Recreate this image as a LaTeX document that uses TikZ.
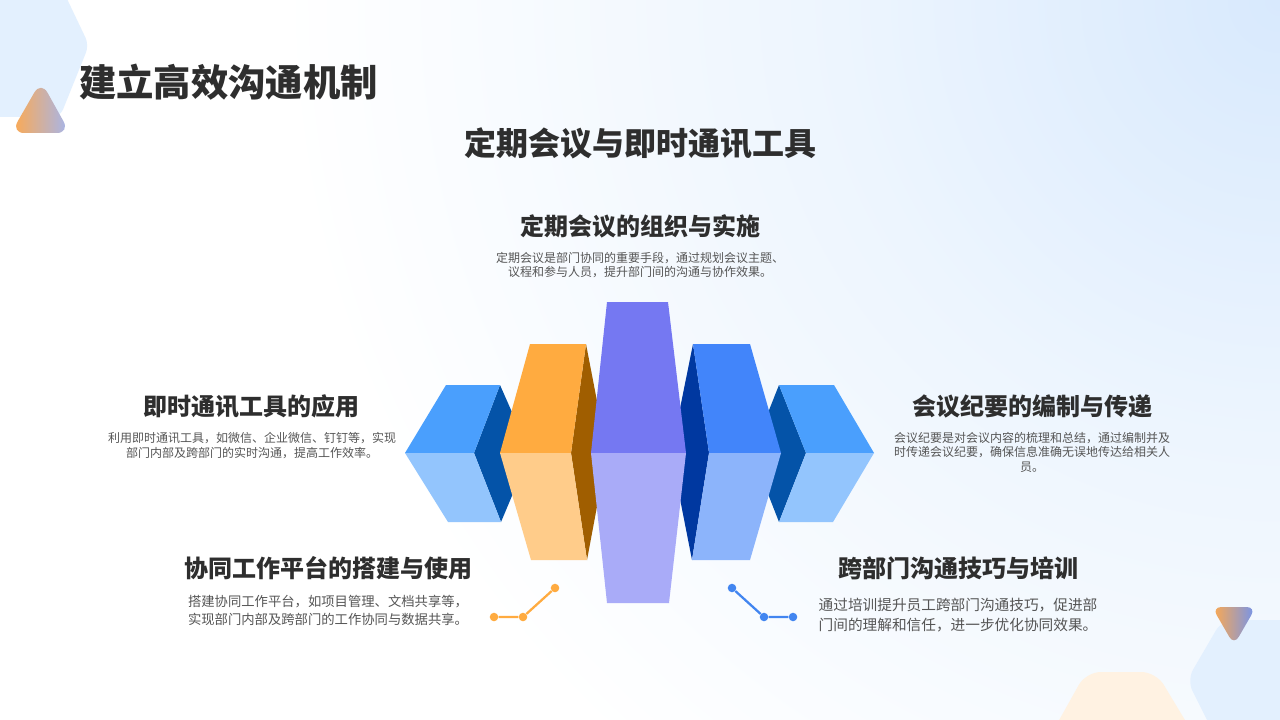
\documentclass[tikz,border=0pt]{standalone}
\usepackage{fontspec}
\setmainfont{Noto Sans CJK SC}
\definecolor{txtdark}{HTML}{2E2E2E}
\definecolor{txtbody}{HTML}{555555}
\definecolor{skyT}{HTML}{4A9FFD}\definecolor{skyB}{HTML}{93C5FD}\definecolor{skyD}{HTML}{0453A8}
\definecolor{orgT}{HTML}{FFAB40}\definecolor{orgB}{HTML}{FFCC8A}\definecolor{orgD}{HTML}{A05E00}
\definecolor{purT}{HTML}{7578F2}\definecolor{purB}{HTML}{A9ABF8}
\definecolor{bluT}{HTML}{4285FA}\definecolor{bluB}{HTML}{8CB4FB}\definecolor{bluD}{HTML}{0038A0}
\definecolor{hexblue}{HTML}{E3F0FE}\definecolor{hexpeach}{HTML}{FFF2E2}
\definecolor{triO}{HTML}{FFA94D}\definecolor{triB}{HTML}{A3B6F0}\definecolor{triC}{HTML}{7093F0}
\definecolor{dotO}{HTML}{FFAB40}\definecolor{dotB}{HTML}{4285F0}
\pgfdeclareradialshading{bgglow}{\pgfpoint{0bp}{0bp}}{%
  rgb(0bp)=(0.847,0.914,0.992);
  rgb(11bp)=(0.929,0.961,0.996);
  rgb(25bp)=(1,1,1);
  rgb(50bp)=(1,1,1)}
\tikzset{
  maintitle/.style={font=\fontsize{28}{34}\selectfont\bfseries,text=txtdark,inner sep=0pt},
  subtitle/.style={font=\fontsize{24}{29}\selectfont\bfseries,text=txtdark,inner sep=0pt},
  head/.style={font=\fontsize{18}{22}\selectfont\bfseries,text=txtdark,inner sep=0pt},
  bodysm/.style={font=\fontsize{9}{10.9}\selectfont,text=txtbody,inner sep=0pt,align=center},
  bodymd/.style={font=\fontsize{10}{13.5}\selectfont,text=txtbody,inner sep=0pt,align=center},
  bodylg/.style={font=\fontsize{11}{15}\selectfont,text=txtbody,inner sep=0pt,align=center},
  facet/.style={draw=none},
  odot/.style={circle,fill=dotO,minimum size=6.4pt,inner sep=0pt},
  bdot/.style={circle,fill=dotB,minimum size=6.4pt,inner sep=0pt}
}
\begin{document}
\begin{tikzpicture}[x=0.75pt,y=-0.75pt]
\useasboundingbox (0,0) rectangle (1280,720);
\fill[white] (0,0) rectangle (1280,720);
\begin{scope}
\clip (0,0) rectangle (1280,720);
\shade[shading=bgglow] (1280,0) circle[radius=1000];
% decorative hexagons
\fill[hexblue,rounded corners=6pt] (-20,-20) -- (58,-20) -- (89,45) -- (60,117) -- (-20,117) -- cycle;
\fill[hexblue,rounded corners=9pt] (1300,620) -- (1222,620) -- (1187,680) -- (1217,740) -- (1300,740) -- cycle;
\fill[hexpeach,rounded corners=11pt] (1048,740) -- (1086,672) -- (1156,672) -- (1197,740) -- cycle;
\end{scope}
\shade[shading angle=-30,left color=triO,right color=triB,rounded corners=10pt] (41,81) -- (70,133) -- (11,133) -- cycle;
\shade[shading angle=-35,left color=triO,right color=triC,rounded corners=7pt] (1212,607) -- (1256,607) -- (1234,645) -- cycle;
% left cube
\fill[skyD,facet] (500,385) -- (474,453) -- (501,522) -- (530,453) -- cycle;
\fill[skyT,facet] (405,453) -- (446,385) -- (500,385) -- (474,453) -- cycle;
\fill[skyB,facet] (405,453) -- (474,453) -- (501,522) -- (448,522) -- cycle;
% right cube
\fill[skyD,facet] (779,385) -- (806,453) -- (779,522) -- (752,453) -- cycle;
\fill[skyT,facet] (779,385) -- (834,385) -- (874,453) -- (806,453) -- cycle;
\fill[skyB,facet] (806,453) -- (874,453) -- (833,522) -- (779,522) -- cycle;
% orange
\fill[orgD,facet] (586,344) -- (571,453) -- (587,560) -- (607,453) -- cycle;
\fill[orgT,facet] (530,344) -- (586,344) -- (571,453) -- (500,453) -- cycle;
\fill[orgB,facet] (500,453) -- (571,453) -- (587,560) -- (531,560) -- cycle;
% blue
\fill[bluD,facet] (693,344) -- (709,453) -- (692,560) -- (671,453) -- cycle;
\fill[bluT,facet] (693,344) -- (750,344) -- (781,453) -- (709,453) -- cycle;
\fill[bluB,facet] (709,453) -- (781,453) -- (750,560) -- (692,560) -- cycle;
% purple
\fill[purT,facet] (607,302) -- (668,302) -- (686,453) -- (591,453) -- cycle;
\fill[purB,facet] (591,453) -- (686,453) -- (669,603) -- (607,603) -- cycle;
% connectors
\node[odot] (o1) at (494,617) {};
\node[odot] (o2) at (523,617) {};
\node[odot] (o3) at (555,588) {};
\draw[dotO,line width=1.7pt] (o1) -- (o2) -- (o3);
\node[bdot] (b1) at (732,588) {};
\node[bdot] (b2) at (764,617) {};
\node[bdot] (b3) at (793,617) {};
\draw[dotB,line width=1.7pt] (b1) -- (b2) -- (b3);
% texts
\node[maintitle,anchor=west] (title) at (79,82) {建立高效沟通机制};
\node[subtitle] (sub) at (640,143) {定期会议与即时通讯工具};
\node[head] (h1) at (640,226) {定期会议的组织与实施};
\node[bodysm] (t1) at (640,265) {定期会议是部门协同的重要手段，通过规划会议主题、\\议程和参与人员，提升部门间的沟通与协作效果。};
\node[head] (h2) at (251,406) {即时通讯工具的应用};
\node[bodysm] (t2) at (252,445.5) {利用即时通讯工具，如微信、企业微信、钉钉等，实现\\部门内部及跨部门的实时沟通，提高工作效率。};
\node[head] (h3) at (1032,406) {会议纪要的编制与传递};
\node[bodysm] (t3) at (1032,452) {会议纪要是对会议内容的梳理和总结，通过编制并及\\时传递会议纪要，确保信息准确无误地传达给相关人\\员。};
\node[head] (h4) at (328,568) {协同工作平台的搭建与使用};
\node[bodymd] (t4) at (328,610) {搭建协同工作平台，如项目管理、文档共享等，\\实现部门内部及跨部门的工作协同与数据共享。};
\node[head] (h5) at (958,568) {跨部门沟通技巧与培训};
\node[bodylg] (t5) at (958,615) {通过培训提升员工跨部门沟通技巧，促进部\\门间的理解和信任，进一步优化协同效果。};
\end{tikzpicture}
\end{document}
